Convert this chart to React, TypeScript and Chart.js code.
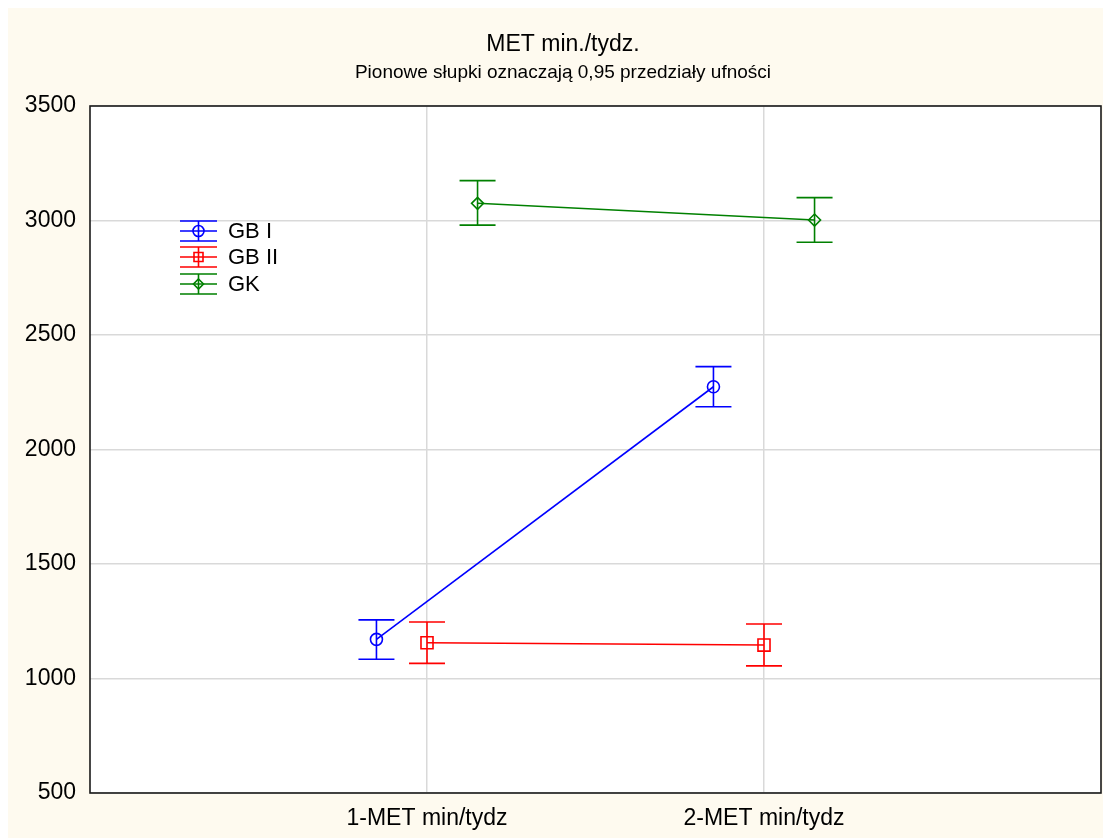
import React, { useEffect, useRef } from "react";
import { Chart, registerables } from "chart.js";

Chart.register(...registerables);

const titleText = "MET min./tydz.";
const subtitleText = "Pionowe słupki oznaczają 0,95 przedziały ufności";
const categories = ["1-MET min/tydz", "2-MET min/tydz"];
const groups = ["GB I", "GB II", "GK"];
const groupColors = ["#0000ff", "#ff0000", "#008000"];
const groupShapes = ["circle", "rect", "rectRot"];
const groupOffsets = [-0.15, 0, 0.15];

const gb1Mean = [1171, 2274];
const gb1Low = [1084, 2187];
const gb1High = [1256, 2362];

const gb2Mean = [1156, 1146];
const gb2Low = [1066, 1055];
const gb2High = [1247, 1238];

const gkMean = [3075, 3002];
const gkLow = [2980, 2905];
const gkHigh = [3174, 3100];

const yTicks = [500, 1000, 1500, 2000, 2500, 3000, 3500];

const means = [gb1Mean, gb2Mean, gkMean];
const lows = [gb1Low, gb2Low, gkLow];
const highs = [gb1High, gb2High, gkHigh];

const FONT = "'Liberation Sans', Arial, sans-serif";
const CREAM = "#fefaef";

function drawMarker(ctx: CanvasRenderingContext2D, shape: string, x: number, y: number, r: number) {
  ctx.beginPath();
  if (shape === "circle") {
    ctx.arc(x, y, r, 0, Math.PI * 2);
  } else if (shape === "rect") {
    ctx.rect(x - r, y - r, 2 * r, 2 * r);
  } else {
    ctx.moveTo(x, y - r);
    ctx.lineTo(x + r, y);
    ctx.lineTo(x, y + r);
    ctx.lineTo(x - r, y);
    ctx.closePath();
  }
  ctx.stroke();
}

const decorPlugin = {
  id: "decor",
  beforeDraw(chart: any) {
    const { ctx, width, height, chartArea } = chart;
    ctx.save();
    ctx.fillStyle = CREAM;
    ctx.fillRect(0, 0, width, height);
    ctx.fillStyle = "#ffffff";
    ctx.fillRect(chartArea.left, chartArea.top, chartArea.right - chartArea.left, chartArea.bottom - chartArea.top);
    ctx.restore();
  },
  beforeDatasetsDraw(chart: any) {
    const { ctx } = chart;
    const xs = chart.scales.x;
    const ys = chart.scales.y;
    ctx.save();
    ctx.lineWidth = 1.6;
    groups.forEach((g, gi) => {
      ctx.strokeStyle = groupColors[gi];
      categories.forEach((c, ci) => {
        const px = xs.getPixelForValue(ci + 1 + groupOffsets[gi]);
        const pLo = ys.getPixelForValue(lows[gi][ci]);
        const pHi = ys.getPixelForValue(highs[gi][ci]);
        ctx.beginPath();
        ctx.moveTo(px, pLo);
        ctx.lineTo(px, pHi);
        ctx.moveTo(px - 18, pLo);
        ctx.lineTo(px + 18, pLo);
        ctx.moveTo(px - 18, pHi);
        ctx.lineTo(px + 18, pHi);
        ctx.stroke();
      });
    });
    ctx.restore();
  },
  afterDraw(chart: any) {
    const { ctx, chartArea } = chart;
    ctx.save();
    // plot frame
    ctx.strokeStyle = "#1a1a1a";
    ctx.lineWidth = 1.6;
    ctx.strokeRect(chartArea.left, chartArea.top, chartArea.right - chartArea.left, chartArea.bottom - chartArea.top);
    // titles
    ctx.fillStyle = "#000";
    ctx.textAlign = "center";
    ctx.textBaseline = "middle";
    ctx.font = `23px ${FONT}`;
    ctx.fillText(titleText, 555, 37);
    ctx.font = `19px ${FONT}`;
    ctx.fillText(subtitleText, 555, 65);
    // legend
    const rows = [223, 249, 276];
    const x0 = 172;
    const x1 = 209;
    const xc = (x0 + x1) / 2;
    groups.forEach((g, gi) => {
      const y = rows[gi];
      ctx.strokeStyle = groupColors[gi];
      ctx.lineWidth = 1.6;
      ctx.beginPath();
      ctx.moveTo(x0, y);
      ctx.lineTo(x1, y);
      ctx.moveTo(x0, y - 10);
      ctx.lineTo(x1, y - 10);
      ctx.moveTo(x0, y + 10);
      ctx.lineTo(x1, y + 10);
      ctx.moveTo(xc, y - 10);
      ctx.lineTo(xc, y + 10);
      ctx.stroke();
      const r = groupShapes[gi] === "rect" ? 4.5 : groupShapes[gi] === "circle" ? 5.5 : 5;
      drawMarker(ctx, groupShapes[gi], xc, y, r);
      ctx.fillStyle = "#000";
      ctx.textAlign = "left";
      ctx.textBaseline = "middle";
      ctx.font = `22px ${FONT}`;
      ctx.fillText(g, 220, y + 1);
    });
    ctx.restore();
  },
};

export default function App() {
  const ref = useRef<HTMLCanvasElement | null>(null);
  useEffect(() => {
    document.documentElement.style.overflow = "hidden";
    document.body.style.overflow = "hidden";
    document.body.style.margin = "0";
    const canvas = ref.current;
    if (!canvas) return;
    const datasets = groups.map((g, gi) => ({
      label: g,
      data: categories.map((c, ci) => ({ x: ci + 1 + groupOffsets[gi], y: means[gi][ci] })),
      showLine: true,
      borderColor: groupColors[gi],
      backgroundColor: "rgba(0,0,0,0)",
      borderWidth: 1.6,
      pointStyle: groupShapes[gi],
      pointRadius: groupShapes[gi] === "rect" ? 8.5 : 6,
      pointBorderWidth: 1.6,
      pointBorderColor: groupColors[gi],
      pointBackgroundColor: "rgba(0,0,0,0)",
    }));
    const chart = new Chart(canvas, {
      type: "scatter",
      data: { datasets },
      options: {
        animation: false,
        responsive: false,
        maintainAspectRatio: false,
        devicePixelRatio: 1,
        layout: { autoPadding: false, padding: { top: 98, right: 2, left: 0, bottom: 0 } },
        plugins: {
          legend: { display: false },
          title: { display: false },
          tooltip: { enabled: false },
        },
        scales: {
          x: {
            type: "linear",
            min: 0,
            max: 3,
            afterBuildTicks: (axis: any) => {
              axis.ticks = [1, 2].map((v) => ({ value: v }));
            },
            afterFit: (scale: any) => {
              scale.height = 45;
              scale.paddingLeft = 0;
              scale.paddingRight = 0;
            },
            ticks: {
              callback: (value: any) => categories[Math.round(Number(value)) - 1],
              color: "#000",
              font: { family: FONT, size: 23 },
              padding: 12,
              maxRotation: 0,
              autoSkip: false,
            },
            grid: { color: "#d9d9d9", lineWidth: 1.5, drawTicks: false },
            border: { display: false },
          },
          y: {
            type: "linear",
            min: 500,
            max: 3500,
            afterBuildTicks: (axis: any) => {
              axis.ticks = yTicks.map((v) => ({ value: v }));
            },
            afterFit: (scale: any) => {
              scale.width = 82;
              scale.paddingTop = 0;
              scale.paddingBottom = 0;
            },
            ticks: {
              callback: (value: any) => String(value),
              color: "#000",
              font: { family: FONT, size: 23 },
              padding: 14,
            },
            grid: { color: "#d9d9d9", lineWidth: 1.5, drawTicks: false },
            border: { display: false },
          },
        },
      },
      plugins: [decorPlugin],
    });
    return () => chart.destroy();
  }, []);
  return (
    <div style={{ paddingLeft: 8, paddingTop: 8, width: 1095, height: 830 }}>
      <div style={{ width: 1095, height: 830 }}>
        <canvas ref={ref} width={1095} height={830} style={{ display: "block", width: 1095, height: 830 }} />
      </div>
    </div>
  );
}
